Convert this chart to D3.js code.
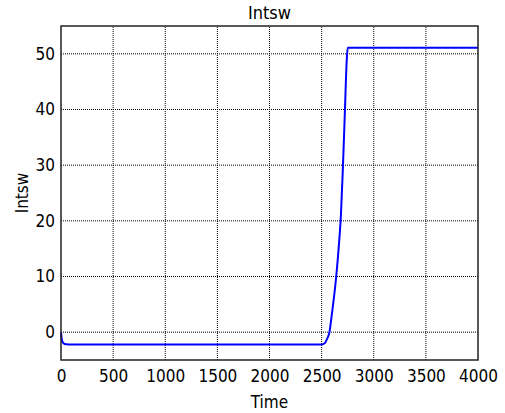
<!DOCTYPE html>
<html>
<head>
<meta charset="utf-8">
<script src="https://cdn.jsdelivr.net/npm/d3@7"></script>
<style>
  body { margin: 0; background: #fff; }
  text { font-family: "DejaVu Sans Condensed", "DejaVu Sans", sans-serif; fill: #000; }
</style>
</head>
<body>
<div id="chart"></div>
<script>
// Data
const times = [0, 10, 25, 50, 100, 2500, 2530, 2550, 2575, 2600, 2620, 2640, 2665, 2685, 2703, 2722, 2740, 2750, 4000];
const intsw = [0, -1.5, -2.0, -2.15, -2.2, -2.2, -2.0, -1.3, 0, 3.5, 6.5, 10, 15.5, 21, 29, 39, 48.5, 51.1, 51.1];
const xTicks = [0, 500, 1000, 1500, 2000, 2500, 3000, 3500, 4000];
const yTicks = [0, 10, 20, 30, 40, 50];

const width = 505;
const height = 413;
const margin = { top: 26, right: 27, bottom: 53, left: 61 };

const svg = d3.select("#chart")
  .append("svg")
  .attr("width", width)
  .attr("height", height);

const x = d3.scaleLinear().domain([0, 4000]).range([margin.left, width - margin.right]);
const y = d3.scaleLinear().domain([-5, 55]).range([height - margin.bottom, margin.top]);

// Grid
svg.append("g")
  .selectAll("line")
  .data(xTicks.slice(1, -1))
  .enter().append("line")
  .attr("x1", d => x(d)).attr("x2", d => x(d))
  .attr("y1", y(-5)).attr("y2", y(55))
  .attr("stroke", "#000")
  .attr("stroke-width", 1)
  .attr("stroke-dasharray", "1,1");

svg.append("g")
  .selectAll("line")
  .data(yTicks)
  .enter().append("line")
  .attr("x1", x(0)).attr("x2", x(4000))
  .attr("y1", d => y(d)).attr("y2", d => y(d))
  .attr("stroke", "#000")
  .attr("stroke-width", 1)
  .attr("stroke-dasharray", "1,1");

// Axes (labels only, frame drawn below)
const xAxis = svg.append("g")
  .attr("transform", `translate(0,${y(-5)})`)
  .call(d3.axisBottom(x).tickValues(xTicks).tickFormat(d3.format("d")).tickSize(0).tickPadding(10));
const yAxis = svg.append("g")
  .attr("transform", `translate(${x(0)},0)`)
  .call(d3.axisLeft(y).tickValues(yTicks).tickFormat(d3.format("d")).tickSize(0).tickPadding(6));
[xAxis, yAxis].forEach(a => {
  a.select(".domain").remove();
  a.selectAll("text").style("font-size", "17px").style("font-family", "'DejaVu Sans Condensed', 'DejaVu Sans', sans-serif");
});

// Line
const line = d3.line()
  .x((d, i) => x(times[i]))
  .y(d => y(d))
  .curve(d3.curveMonotoneX);

svg.append("path")
  .datum(intsw)
  .attr("fill", "none")
  .attr("stroke", "#0000ff")
  .attr("stroke-width", 2)
  .attr("d", line);

// Frame
svg.append("rect")
  .attr("x", x(0)).attr("y", y(55))
  .attr("width", x(4000) - x(0))
  .attr("height", y(-5) - y(55))
  .attr("fill", "none")
  .attr("stroke", "#222")
  .attr("stroke-width", 1.5);

// Titles
svg.append("text")
  .attr("x", (x(0) + x(4000)) / 2)
  .attr("y", 19)
  .attr("text-anchor", "middle")
  .style("font-size", "18px")
  .text("Intsw");

svg.append("text")
  .attr("x", (x(0) + x(4000)) / 2)
  .attr("y", 408)
  .attr("text-anchor", "middle")
  .style("font-size", "17px")
  .text("Time");

svg.append("text")
  .attr("transform", `translate(28,${(y(-5) + y(55)) / 2}) rotate(-90)`)
  .attr("text-anchor", "middle")
  .style("font-size", "17px")
  .text("Intsw");
</script>
</body>
</html>
